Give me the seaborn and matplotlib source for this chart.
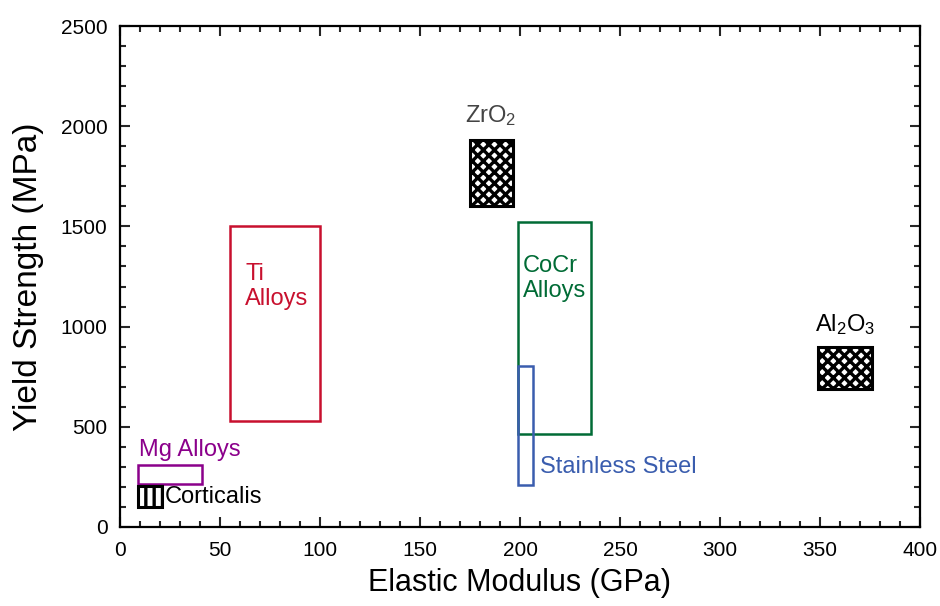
import matplotlib
matplotlib.use("Agg")
import matplotlib.pyplot as plt
import seaborn as sns
from matplotlib.ticker import MultipleLocator

# Material property ranges (elastic modulus in GPa, yield strength in MPa)
materials = ["Ti Alloys", "CoCr Alloys", "Stainless Steel", "ZrO2", "Al2O3", "Mg Alloys", "Corticalis"]
mod_low = [55, 199, 199, 175, 349, 9, 9]
mod_high = [100, 235.5, 206.5, 196.5, 376, 41, 21]
ys_low = [530, 465, 210, 1600, 690, 215, 100]
ys_high = [1500, 1520, 805, 1930, 900, 310, 205]
edge_colors = ["#C8102E", "#006B35", "#3A5DAE", "black", "black", "#8B008B", "black"]
hatches = [None, None, None, "xxx", "xxx", None, "||"]

# labels drawn next to boxes
label_text = ["Ti\nAlloys", "CoCr\nAlloys", "Stainless Steel", "ZrO$_2$", "Al$_2$O$_3$", "Mg Alloys", "Corticalis"]
label_x = [62.5, 201.5, 210, 185.5, 362.5, 9.5, 22.5]
label_y = [1200, 1240, 300, 2055, 1010, 385, 150]
label_colors = ["#C8102E", "#006B35", "#3A5DAE", "#444444", "black", "#8B008B", "black"]
label_ha = ["left", "left", "left", "center", "center", "left", "left"]

sns.set_style("ticks")
plt.rcParams["font.family"] = ["Liberation Sans", "DejaVu Sans"]
plt.rcParams["mathtext.default"] = "regular"
plt.rcParams["hatch.linewidth"] = 2.4

fig = plt.figure(figsize=(9.4, 6.06), dpi=100)
ax = fig.add_axes([120 / 940, 79 / 606, 800 / 940, 501 / 606])

for i in range(len(materials)):
    ax.bar(mod_low[i], ys_high[i] - ys_low[i], width=mod_high[i] - mod_low[i],
           bottom=ys_low[i], align="edge", fill=False, edgecolor=edge_colors[i],
           linewidth=2.2 if hatches[i] else 1.8, hatch=hatches[i], zorder=3)

for i in range(len(materials)):
    ax.text(label_x[i], label_y[i], label_text[i], color=label_colors[i], fontsize=17,
            ha=label_ha[i], va="center", linespacing=1.15)

ax.set_xlim(0, 400)
ax.set_ylim(0, 2500)
ax.xaxis.set_major_locator(MultipleLocator(50))
ax.xaxis.set_minor_locator(MultipleLocator(10))
ax.yaxis.set_major_locator(MultipleLocator(500))
ax.yaxis.set_minor_locator(MultipleLocator(100))
ax.tick_params(which="both", direction="in", top=True, right=True, width=1.5,
               labelsize=15, labelcolor="black")
ax.tick_params(axis="x", pad=10)
ax.tick_params(axis="y", pad=9)
ax.tick_params(which="major", length=7)
ax.tick_params(which="minor", length=4)
for s in ax.spines.values():
    s.set_linewidth(1.6)
    s.set_color("black")

ax.set_xlabel("Elastic Modulus (GPa)", fontsize=22, labelpad=6, color="black")
ax.set_ylabel("Yield Strength (MPa)", fontsize=24, labelpad=12, color="black")

plt.savefig("out.png", dpi=100)
